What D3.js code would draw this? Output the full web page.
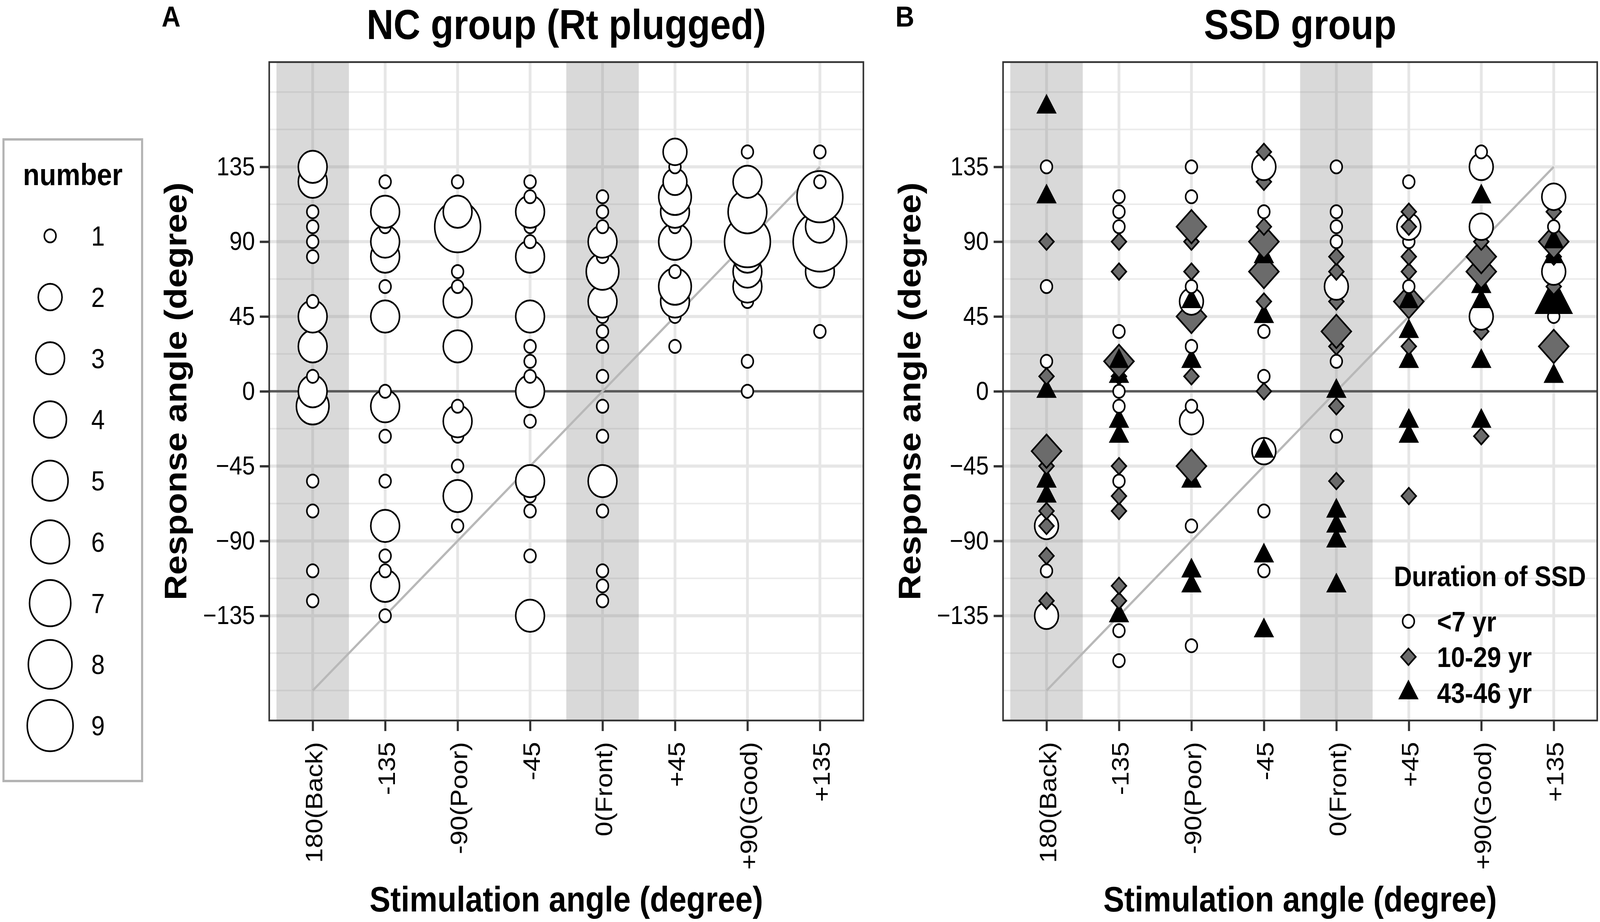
<!DOCTYPE html>
<html>
<head>
<meta charset="utf-8">
<script src="https://cdn.jsdelivr.net/npm/d3@7/dist/d3.min.js"></script>
<style>
html, body { margin: 0; padding: 0; background: #fff; overflow: hidden; }
svg { display: block; width: 100vw; height: 100vh; }
text { font-family: "Liberation Sans", Arial, Helvetica, sans-serif; fill: #000; }
</style>
</head>
<body>
<svg id="chart"></svg>
<script>
var width = 4594;
var height = 2361;

var stimLabels = ["180(Back)", "-135", "-90(Poor)", "-45", "0(Front)", "+45", "+90(Good)", "+135"];
var shadedStims = ["180(Back)", "0(Front)"];
var yTicks = [-135, -90, -45, 0, 45, 90, 135];
var yMinor = [-180, -157.5, -112.5, -67.5, -22.5, 22.5, 67.5, 112.5, 157.5, 180];
var sizeBreaks = [1, 2, 3, 4, 5, 6, 7, 8, 9];
var durationLabels = ["<7 yr", "10-29 yr", "43-46 yr"];

// NC group, one list per stimulation angle: [response angle, number]
var ncBack = [[135, 3], [126, 3], [108, 1], [99, 1], [90, 1], [81, 1], [54, 1], [45, 3], [27, 3], [9, 1], [0, 3], [-9, 4], [-54, 1], [-72, 1], [-108, 1], [-126, 1]];
var ncM135 = [[126, 1], [108, 3], [99, 1], [90, 3], [81, 3], [63, 1], [45, 3], [0, 1], [-9, 3], [-27, 1], [-54, 1], [-81, 3], [-99, 1], [-108, 1], [-117, 3], [-135, 1]];
var ncM90 = [[126, 1], [108, 3], [99, 9], [72, 1], [63, 1], [54, 3], [27, 3], [-9, 1], [-18, 3], [-27, 1], [-45, 1], [-63, 3], [-81, 1]];
var ncM45 = [[126, 1], [117, 1], [108, 3], [99, 1], [90, 1], [81, 3], [45, 3], [27, 1], [18, 1], [9, 1], [0, 3], [-18, 1], [-54, 3], [-63, 1], [-72, 1], [-99, 1], [-135, 3]];
var ncFront = [[117, 1], [108, 1], [99, 1], [90, 3], [81, 1], [72, 4], [54, 3], [45, 1], [36, 1], [27, 1], [9, 1], [-9, 1], [-27, 1], [-54, 3], [-72, 1], [-108, 1], [-117, 1], [-126, 1]];
var ncP45 = [[144, 2], [135, 1], [126, 2], [117, 4], [108, 3], [99, 1], [90, 4], [72, 1], [63, 4], [54, 3], [45, 1], [27, 1]];
var ncP90 = [[144, 1], [126, 3], [108, 6], [90, 9], [81, 3], [72, 3], [63, 3], [54, 1], [18, 1], [0, 1]];
var ncP135 = [[144, 1], [126, 1], [117, 9], [99, 3], [90, 13], [72, 3], [36, 1]];
var ncColumns = [ncBack, ncM135, ncM90, ncM45, ncFront, ncP45, ncP90, ncP135];

// SSD group: [stimulation index, response angle, number]
var ssdUnder7 = [
  [0, 135, 1], [0, 63, 1], [0, 18, 1], [0, -81, 2], [0, -108, 1], [0, -135, 2],
  [1, 117, 1], [1, 108, 1], [1, 99, 1], [1, 36, 1], [1, 0, 1], [1, -9, 1], [1, -54, 1], [1, -144, 1], [1, -162, 1],
  [2, 135, 1], [2, 117, 1], [2, 63, 1], [2, 54, 2], [2, 27, 1], [2, -9, 1], [2, -18, 2], [2, -81, 1], [2, -153, 1],
  [3, 135, 2], [3, 108, 1], [3, 36, 1], [3, 9, 1], [3, -36, 2], [3, -72, 1], [3, -108, 1],
  [4, 135, 1], [4, 108, 1], [4, 99, 1], [4, 90, 1], [4, 63, 2], [4, 18, 1], [4, -27, 1],
  [5, 126, 1], [5, 99, 2], [5, 90, 1], [5, 63, 1],
  [6, 144, 1], [6, 135, 2], [6, 99, 2], [6, 45, 2],
  [7, 117, 2], [7, 99, 1], [7, 72, 2], [7, 45, 1]
];
var ssd10to29 = [
  [0, 90, 1], [0, 9, 1], [0, -36, 2], [0, -45, 1], [0, -72, 1], [0, -81, 1], [0, -99, 1], [0, -126, 1],
  [1, 90, 1], [1, 72, 1], [1, 18, 2], [1, 9, 1], [1, -45, 1], [1, -63, 1], [1, -72, 1], [1, -117, 1], [1, -126, 1],
  [2, 99, 2], [2, 90, 1], [2, 72, 1], [2, 45, 2], [2, 9, 1], [2, -45, 2],
  [3, 144, 1], [3, 126, 1], [3, 99, 1], [3, 90, 2], [3, 72, 2], [3, 54, 1], [3, 0, 1],
  [4, 81, 1], [4, 72, 1], [4, 54, 1], [4, 36, 2], [4, 27, 1], [4, -9, 1], [4, -54, 1],
  [5, 108, 1], [5, 99, 1], [5, 81, 1], [5, 72, 1], [5, 54, 2], [5, 27, 1], [5, -63, 1],
  [6, 90, 1], [6, 81, 2], [6, 72, 2], [6, 36, 1], [6, -27, 1],
  [7, 108, 1], [7, 90, 2], [7, 81, 1], [7, 63, 1], [7, 27, 2]
];
var ssd43to46 = [
  [0, 171, 1], [0, 117, 1], [0, 0, 1], [0, -54, 1], [0, -63, 1],
  [1, 18, 1], [1, 9, 1], [1, -18, 1], [1, -27, 1], [1, -135, 1],
  [2, 54, 1], [2, 18, 1], [2, -54, 1], [2, -108, 1], [2, -117, 1],
  [3, 81, 1], [3, 45, 1], [3, -36, 1], [3, -99, 1], [3, -144, 1],
  [4, 0, 1], [4, -72, 1], [4, -81, 1], [4, -90, 1], [4, -117, 1],
  [5, 54, 1], [5, 36, 1], [5, 18, 1], [5, -18, 1], [5, -27, 1],
  [6, 117, 1], [6, 63, 1], [6, 54, 1], [6, 18, 1], [6, -18, 1],
  [7, 90, 1], [7, 81, 1], [7, 54, 2], [7, 9, 1]
];

// the window may be narrower than the chart, so draw in chart units and fit the viewport
var svg = d3.select('#chart')
    .attr('viewBox', '0 0 ' + width + ' ' + height)
    .attr('preserveAspectRatio', 'none');

svg.append('rect').attr('width', width).attr('height', height).attr('fill', '#fff');

var plotTop = 159, plotBottom = 1845, plotW = 1706;
var strokeW = 4.5;

var y = d3.scaleLinear().domain([-198, 198]).range([plotBottom, plotTop]);
// outer diameter of a point by number of responses (area scale, like ggplot)
var diam = d3.scaleSqrt().domain([0, 8]).range([38, 136]);
function radius(n) { return (diam(n - 1) - strokeW) / 2; }

function circlePath(r) {
    return d3.arc()({innerRadius: 0, outerRadius: r, startAngle: 0, endAngle: 2 * Math.PI});
}
function diamondPath(r) {
    var h = 1.2533 * r;
    return 'M0,' + (-h) + 'L' + h + ',0L0,' + h + 'L' + (-h) + ',0Z';
}
function trianglePath(r) {
    r = r * 1.12;
    var top = 1.5551 * r, base = 0.7776 * r, hw = 1.3468 * r;
    return 'M0,' + (-top) + 'L' + hw + ',' + base + 'L' + (-hw) + ',' + base + 'Z';
}
var shapeStyles = [
    {path: circlePath, fill: '#ffffff'},
    {path: diamondPath, fill: '#6b6b6b'},
    {path: trianglePath, fill: '#000000'}
];

function drawPanel(left, tag, title) {
    var x = d3.scalePoint().domain(stimLabels).range([left, left + plotW]).padding(0.6);
    var step = x.step();
    var g = svg.append('g');

    g.append('rect')
        .attr('x', left).attr('y', plotTop)
        .attr('width', plotW).attr('height', plotBottom - plotTop)
        .attr('fill', '#fff');

    // grid
    g.selectAll('.minor').data(yMinor).enter().append('line')
        .attr('x1', left).attr('x2', left + plotW)
        .attr('y1', function(d){ return y(d); }).attr('y2', function(d){ return y(d); })
        .attr('stroke', '#ebebeb').attr('stroke-width', 4);
    g.selectAll('.major').data(yTicks).enter().append('line')
        .attr('x1', left).attr('x2', left + plotW)
        .attr('y1', function(d){ return y(d); }).attr('y2', function(d){ return y(d); })
        .attr('stroke', '#e6e6e6').attr('stroke-width', 8);
    g.selectAll('.vmajor').data(stimLabels).enter().append('line')
        .attr('x1', function(d){ return x(d); }).attr('x2', function(d){ return x(d); })
        .attr('y1', plotTop).attr('y2', plotBottom)
        .attr('stroke', '#e6e6e6').attr('stroke-width', 8);

    // shaded back / front columns
    g.selectAll('.shade').data(shadedStims).enter().append('rect')
        .attr('x', function(d){ return x(d) - step / 2; })
        .attr('y', plotTop)
        .attr('width', step)
        .attr('height', plotBottom - plotTop)
        .attr('fill', '#8a8a8a')
        .attr('fill-opacity', 0.32);

    // zero line and diagonal (correct response)
    g.append('line')
        .attr('x1', left).attr('x2', left + plotW)
        .attr('y1', y(0)).attr('y2', y(0))
        .attr('stroke', '#5a5a5a').attr('stroke-width', 6);
    g.append('line')
        .attr('x1', x(stimLabels[0])).attr('y1', y(-180))
        .attr('x2', x(stimLabels[7])).attr('y2', y(135))
        .attr('stroke', '#b8b8b8').attr('stroke-width', 6);

    // axes
    var yAxis = g.append('g')
        .attr('transform', 'translate(' + left + ',0)')
        .call(d3.axisLeft(y).tickValues(yTicks).tickSize(27).tickPadding(14));
    yAxis.select('.domain').remove();
    yAxis.selectAll('line').attr('stroke', '#333').attr('stroke-width', 6);
    yAxis.selectAll('text').attr('font-size', 66).attr('fill', '#111').attr('font-family', null);

    var xAxis = g.append('g')
        .attr('transform', 'translate(0,' + plotBottom + ')')
        .call(d3.axisBottom(x).tickSize(27).tickPadding(14));
    xAxis.select('.domain').remove();
    xAxis.selectAll('line').attr('stroke', '#333').attr('stroke-width', 6);
    xAxis.selectAll('text')
        .attr('font-size', 68).attr('fill', '#111').attr('font-family', null)
        .attr('transform', 'rotate(-90)')
        .attr('x', -55).attr('y', 0).attr('dy', '0.4em')
        .attr('text-anchor', 'end');

    g.append('text')
        .attr('x', left + plotW / 2).attr('y', 2334)
        .attr('text-anchor', 'middle')
        .attr('font-size', 90).attr('font-weight', 'bold')
        .text('Stimulation angle (degree)');
    g.append('text')
        .attr('transform', 'translate(' + (left - 238) + ',' + ((plotTop + plotBottom) / 2) + ') rotate(-90)')
        .attr('text-anchor', 'middle')
        .attr('font-size', 90).attr('font-weight', 'bold')
        .text('Response angle (degree)');
    g.append('text')
        .attr('x', left + plotW / 2).attr('y', 100)
        .attr('text-anchor', 'middle')
        .attr('font-size', 107).attr('font-weight', 'bold')
        .text(title);
    g.append('text')
        .attr('x', left - 309).attr('y', 68)
        .attr('font-size', 75).attr('font-weight', 'bold')
        .text(tag);

    return {g: g, x: x};
}

function drawBorder(left) {
    svg.append('rect')
        .attr('x', left).attr('y', plotTop)
        .attr('width', plotW).attr('height', plotBottom - plotTop)
        .attr('fill', 'none').attr('stroke', '#333').attr('stroke-width', 4.5);
}

// ---- panel A: NC group
var pA = drawPanel(773, 'A', 'NC group (Rt plugged)');
var ncPoints = [];
ncColumns.forEach(function(col, i){
    col.slice().sort(function(a, b){ return a[0] - b[0]; }).forEach(function(p){
        ncPoints.push({stim: stimLabels[i], resp: p[0], n: p[1]});
    });
});
pA.g.selectAll('.nc').data(ncPoints).enter().append('circle')
    .attr('cx', function(d){ return pA.x(d.stim); })
    .attr('cy', function(d){ return y(d.resp); })
    .attr('r', function(d){ return radius(d.n); })
    .attr('fill', '#fff')
    .attr('stroke', '#000')
    .attr('stroke-width', strokeW);
drawBorder(773);

// ---- panel B: SSD group
var pB = drawPanel(2880, 'B', 'SSD group');
var ssdPoints = [];
[ssdUnder7, ssd10to29, ssd43to46].forEach(function(list, k){
    list.forEach(function(p){
        ssdPoints.push({stim: stimLabels[p[0]], resp: p[1], n: p[2], grp: k});
    });
});
ssdPoints.sort(function(a, b){ return (a.resp - b.resp) || (a.grp - b.grp); });
pB.g.selectAll('.ssd').data(ssdPoints).enter().append('path')
    .attr('transform', function(d){ return 'translate(' + pB.x(d.stim) + ',' + y(d.resp) + ')'; })
    .attr('d', function(d){ return shapeStyles[d.grp].path(radius(d.n)); })
    .attr('fill', function(d){ return shapeStyles[d.grp].fill; })
    .attr('stroke', '#000')
    .attr('stroke-width', strokeW)
    .attr('stroke-linejoin', 'miter');
drawBorder(2880);

// legend inside panel B
var legB = svg.append('g');
legB.append('text')
    .attr('x', 4002).attr('y', 1501)
    .attr('font-size', 72).attr('font-weight', 'bold')
    .text('Duration of SSD');
var legRows = [1591, 1682, 1774];
legB.selectAll('.key').data(durationLabels).enter().append('path')
    .attr('transform', function(d, i){ return 'translate(4044,' + legRows[i] + ')'; })
    .attr('d', function(d, i){ return shapeStyles[i].path(radius(1)); })
    .attr('fill', function(d, i){ return shapeStyles[i].fill; })
    .attr('stroke', '#000').attr('stroke-width', strokeW);
legB.selectAll('.lab').data(durationLabels).enter().append('text')
    .attr('x', 4126).attr('y', function(d, i){ return legRows[i]; })
    .attr('dy', '0.36em')
    .attr('font-size', 72).attr('font-weight', 'bold')
    .text(function(d){ return d; });

// size legend for panel A
var legA = svg.append('g');
legA.append('rect')
    .attr('x', 10).attr('y', 357).attr('width', 398).attr('height', 1643)
    .attr('fill', '#fff').attr('stroke', '#b3b3b3').attr('stroke-width', 6);
legA.append('text')
    .attr('x', 209).attr('y', 474)
    .attr('text-anchor', 'middle')
    .attr('font-size', 78).attr('font-weight', 'bold')
    .text('number');
var legY = d3.scaleLinear().domain([1, 9]).range([604, 1858]);
legA.selectAll('.sz').data(sizeBreaks).enter().append('circle')
    .attr('cx', 144).attr('cy', function(d){ return legY(d); })
    .attr('r', function(d){ return radius(d); })
    .attr('fill', '#fff').attr('stroke', '#000').attr('stroke-width', strokeW);
legA.selectAll('.szl').data(sizeBreaks).enter().append('text')
    .attr('x', 262).attr('y', function(d){ return legY(d); })
    .attr('dy', '0.36em')
    .attr('font-size', 70)
    .text(function(d){ return d; });
</script>
</body>
</html>
